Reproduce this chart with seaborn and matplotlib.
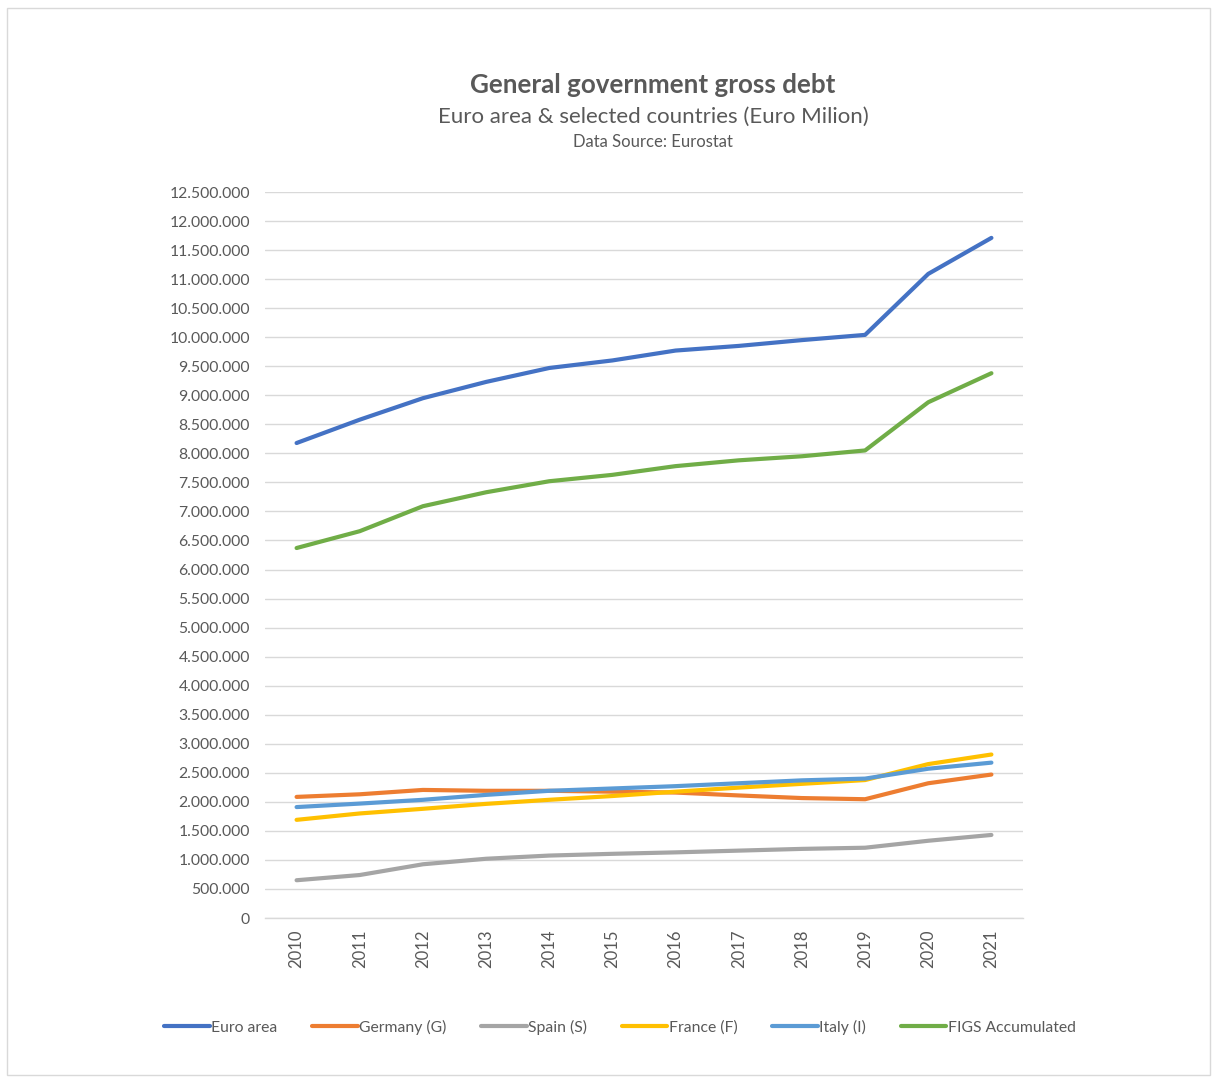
import matplotlib
matplotlib.use("Agg")
import matplotlib.pyplot as plt
import matplotlib.ticker as mticker
from matplotlib.patches import Rectangle
import seaborn as sns
import pandas as pd

years = [2010, 2011, 2012, 2013, 2014, 2015, 2016, 2017, 2018, 2019, 2020, 2021]
euro_area = [8178000, 8580000, 8950000, 9230000, 9470000, 9600000, 9770000, 9850000, 9950000, 10040000, 11090000, 11710000]
germany = [2085000, 2130000, 2205000, 2190000, 2190000, 2175000, 2160000, 2110000, 2065000, 2045000, 2320000, 2470000]
spain = [650000, 740000, 925000, 1020000, 1075000, 1105000, 1130000, 1160000, 1190000, 1210000, 1330000, 1430000]
france = [1690000, 1800000, 1880000, 1965000, 2035000, 2100000, 2175000, 2245000, 2310000, 2375000, 2650000, 2815000]
italy = [1910000, 1970000, 2035000, 2120000, 2190000, 2230000, 2270000, 2320000, 2370000, 2400000, 2570000, 2675000]
figs = [6370000, 6660000, 7090000, 7330000, 7520000, 7630000, 7780000, 7880000, 7950000, 8050000, 8880000, 9380000]

series_names = ["Euro area", "Germany (G)", "Spain (S)", "France (F)", "Italy (I)", "FIGS Accumulated"]
series_values = [euro_area, germany, spain, france, italy, figs]
colors = ["#4472C4", "#ED7D31", "#A5A5A5", "#FFC000", "#5B9BD5", "#70AD47"]

rows = []
for name, vals in zip(series_names, series_values):
    for idx, (y, v) in enumerate(zip(years, vals)):
        rows.append({"pos": idx, "year": str(y), "series": name, "value": v})
df = pd.DataFrame(rows)

sns.set_theme(style="white")
plt.rcParams["font.family"] = ["Lato", "DejaVu Sans"]
text_color = "#595959"

fig = plt.figure(figsize=(12.12, 10.77), dpi=100)
fig.patch.set_facecolor("white")
fig.add_artist(Rectangle((7 / 1212, 1 - 1075 / 1077), (1210 - 7) / 1212, (1075 - 8) / 1077,
                         transform=fig.transFigure, fill=False, edgecolor="#D9D9D9", linewidth=1))

ax = fig.add_axes([265 / 1212, 1 - 918 / 1077, (1023 - 265) / 1212, (918 - 192) / 1077])
sns.lineplot(data=df, x="pos", y="value", hue="series", hue_order=series_names,
             palette=colors, linewidth=3.0, ax=ax, legend=False, sort=False)

ax.set_xlim(-0.5, len(years) - 0.5)
ax.set_ylim(0, 12500000)
ax.yaxis.set_major_locator(mticker.MultipleLocator(500000))
ax.yaxis.set_major_formatter(mticker.FuncFormatter(lambda v, p: f"{int(round(v)):,}".replace(",", ".")))
ax.set_xticks(range(len(years)))
ax.set_xticklabels([str(y) for y in years], rotation=90)
ax.grid(axis="y", color="#D9D9D9", linewidth=1)
ax.set_axisbelow(True)
for side in ["top", "right", "left"]:
    ax.spines[side].set_visible(False)
ax.spines["bottom"].set_color("#D9D9D9")
ax.spines["bottom"].set_linewidth(1)
ax.tick_params(axis="y", length=0, pad=11, labelsize=11.3, labelcolor=text_color)
ax.tick_params(axis="x", length=0, pad=8, labelsize=12, labelcolor=text_color)
ax.set_xlabel("")
ax.set_ylabel("")

cx = 653 / 1212
fig.text(cx, 1 - 85 / 1077, "General government gross debt", ha="center", va="center",
         fontsize=18.7, fontweight="bold", color=text_color)
fig.text(cx, 1 - 117 / 1077, "Euro area & selected countries (Euro Milion)", ha="center", va="center",
         fontsize=16, color=text_color)
fig.text(cx, 1 - 142 / 1077, "Data Source: Eurostat", ha="center", va="center",
         fontsize=12, color=text_color)

handles = [plt.Line2D([0], [0], color=c, linewidth=3.0) for c in colors]
fig.legend(handles, series_names, loc="center", bbox_to_anchor=(620 / 1212, 1 - 1027 / 1077),
           ncol=6, frameon=False, handlelength=2.9, handletextpad=0.1, columnspacing=2.2,
           prop={"size": 11.3}, labelcolor=text_color)

fig.savefig("out.png", dpi=100, facecolor="white")
